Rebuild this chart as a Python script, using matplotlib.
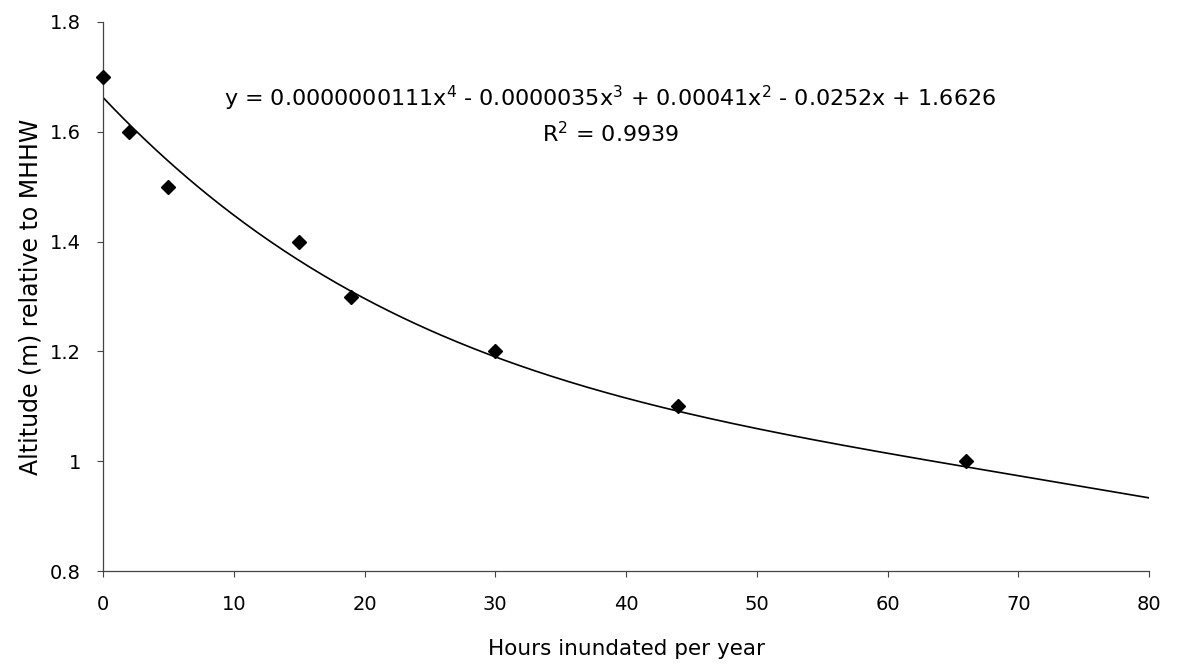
import numpy as np
import matplotlib
matplotlib.use("Agg")
import matplotlib.pyplot as plt

plt.rcParams['font.family'] = ['DejaVu Sans']

hours = [0, 2, 5, 15, 19, 30, 44, 66]
altitude = [1.7, 1.6, 1.5, 1.4, 1.3, 1.2, 1.1, 1.0]
# 4th-order trendline coefficients as printed on the chart (highest power first)
trend_coef = [0.0000000111, -0.0000035, 0.00041, -0.0252, 1.6626]
x_ticks = [0, 10, 20, 30, 40, 50, 60, 70, 80]
y_ticks = [0.8, 1.0, 1.2, 1.4, 1.6, 1.8]
y_tick_labels = ['0.8', '1', '1.2', '1.4', '1.6', '1.8']
equation = "y = 0.0000000111x$^4$ - 0.0000035x$^3$ + 0.00041x$^2$ - 0.0252x + 1.6626"
r2_text = "R$^2$ = 0.9939"

fig = plt.figure(figsize=(11.81, 6.66), dpi=100)
ax = fig.add_axes([0.0872, 0.1426, 0.973 - 0.0872, 0.967 - 0.1426])

xs = np.linspace(0, 80, 400)
ax.plot(xs, np.polyval(trend_coef, xs), color='black', lw=1.2)
ax.plot(hours, altitude, linestyle='none', marker='D', markersize=7.5,
        color='black', clip_on=False, zorder=3)

ax.set_xlim(0, 80)
ax.set_ylim(0.8, 1.8)
ax.set_xticks(x_ticks)
ax.set_yticks(y_ticks)
ax.set_yticklabels(y_tick_labels)
for s in ['top', 'right']:
    ax.spines[s].set_visible(False)
for s in ['left', 'bottom']:
    ax.spines[s].set_color('#444444')
    ax.spines[s].set_linewidth(0.9)
ax.tick_params(direction='out', length=4, width=0.8, colors='#444444',
               labelcolor='black', labelsize=14)
ax.tick_params(axis='x', pad=13)
ax.tick_params(axis='y', pad=12)

ax.set_xlabel('Hours inundated per year', fontsize=15.5, labelpad=18)
ax.set_ylabel('Altitude (m) relative to MHHW', fontsize=17, labelpad=5)

ax.text(0.485, 0.860, equation, transform=ax.transAxes, ha='center',
        va='center', fontsize=16)
ax.text(0.485, 0.796, r2_text, transform=ax.transAxes, ha='center',
        va='center', fontsize=16)

fig.savefig('out.png', dpi=100)
